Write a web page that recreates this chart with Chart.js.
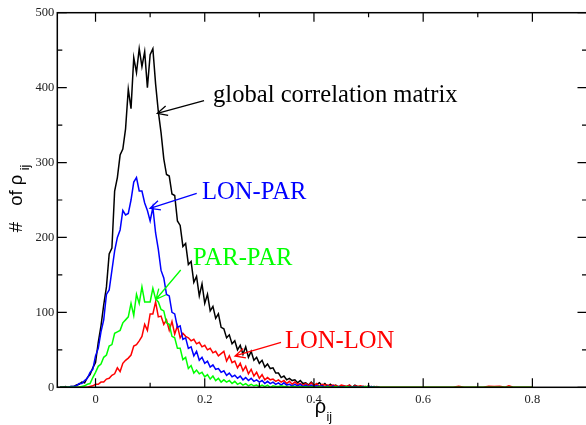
<!DOCTYPE html>
<html><head><meta charset="utf-8">
<script src="https://cdn.jsdelivr.net/npm/chart.js@4/dist/chart.umd.min.js"></script>
<style>html,body{margin:0;padding:0;overflow:hidden;background:#fff;width:586px;height:425px}canvas{display:block}</style>
</head><body><canvas id="c" width="590" height="425" style="width:590px;height:425px"></canvas>
<script>
// bin centres (rho_ij)
const rho = [
-0.065,-0.06,-0.055,-0.05,-0.045,-0.04,-0.035,-0.03,-0.025,-0.02,
-0.015,-0.01,-0.005,0,0.005,0.01,0.015,0.02,0.025,0.03,
0.035,0.04,0.045,0.05,0.055,0.06,0.065,0.07,0.075,0.08,
0.085,0.09,0.095,0.1,0.105,0.11,0.115,0.12,0.125,0.13,
0.135,0.14,0.145,0.15,0.155,0.16,0.165,0.17,0.175,0.18,
0.185,0.19,0.195,0.2,0.205,0.21,0.215,0.22,0.225,0.23,
0.235,0.24,0.245,0.25,0.255,0.26,0.265,0.27,0.275,0.28,
0.285,0.29,0.295,0.3,0.305,0.31,0.315,0.32,0.325,0.33,
0.335,0.34,0.345,0.35,0.355,0.36,0.365,0.37,0.375,0.38,
0.385,0.39,0.395,0.4,0.405,0.41,0.415,0.42,0.425,0.43,
0.435,0.44,0.445,0.45,0.455,0.46,0.465,0.47,0.475,0.48,
0.485,0.49,0.495,0.5,0.505,0.51,0.515,0.52,0.525,0.53,
0.535,0.54,0.545,0.55];

const globalCounts = [
0,0,1,0,1,1,3,4,7,6,
13,17,26,33,60,82,110,134,178,186,
262,280,310,318,345,398,372,440,420,452,
428,448,400,444,452,405,368,340,305,284,
282,258,256,222,216,188,192,164,168,140,
148,122,138,112,124,102,108,92,98,80,
78,66,70,58,62,50,56,44,54,40,
48,36,40,32,36,27,31,25,26,19,
19,13,15,10,12,9,10,6,9,5,
6,3,7,3,4,6,2,5,1,4,
1,3,0,2,1,1,3,0,3,1,
0,1,0,2,0,1,0,0,null,null,
null,null,null,null];

const lonParCounts = [
0,0,0,0,1,1,2,5,5,9,
12,20,24,42,52,74,90,124,130,156,
182,200,210,236,230,232,250,274,280,262,
262,246,236,222,240,206,184,156,146,124,
122,100,98,80,82,64,66,52,54,42,
48,36,40,32,35,27,30,24,25,20,
22,16,19,14,16,12,15,10,13,9,
12,8,10,7,9,5,8,5,7,4,
6,3,6,3,4,2,4,2,4,1,
3,1,3,1,2,1,2,0,2,0,
2,0,1,0,1,0,1,0,1,0,
0,1,0,0,1,0,0,0,null,null,
null,null,null,null];

const parParCounts = [
0,0,0,0,0,0,0,0,1,2,
4,5,13,20,28,31,40,43,55,57,
72,74,76,86,90,94,112,96,124,112,
134,114,114,114,132,118,114,104,102,86,
84,68,66,52,52,37,40,25,29,19,
23,18,20,14,17,11,15,9,12,7,
10,7,9,5,8,4,6,3,5,2,
4,2,3,1,3,1,3,0,2,1,
1,2,1,1,0,1,1,0,1,0,
1,0,1,0,0,1,0,0,1,0,
0,1,0,0,0,1,0,0,0,0,
0,0,1,0,0,0,0,0,0,0,
0,0,0,0];

const lonLonCounts = [
0,0,0,0,0,0,0,0,0,0,
0,1,2,4,4,7,7,11,12,16,
18,26,21,32,36,39,43,55,57,62,
68,84,76,98,98,114,94,95,84,90,
76,88,71,82,66,72,68,66,62,64,
58,60,54,56,50,52,46,48,42,45,
48,35,42,33,35,26,32,22,28,18,
24,15,20,12,17,10,13,10,11,8,
10,7,9,5,8,4,7,4,5,3,
5,2,6,2,5,1,4,3,3,2,
3,2,1,3,2,1,3,0,2,1,
2,1,1,0,1,0,1,0,0,0,
0,0,0,0];

const parParTailRho = [0.6,0.7,0.8];
const parParTail    = [0,0,0];
const lonLonTailRho = [0.6,0.655,0.665,0.675,0.71,0.72,0.73,0.74,0.75,0.757,0.765,0.8];
const lonLonTail    = [0,0,1.5,0,0,1.5,1,1.5,0,2,0,0];

const xMajorTicks = [0,0.2,0.4,0.6,0.8];
const xMinorTicks = [0.1,0.3,0.5,0.7];
const xTickLabels = ['0','0.2','0.4','0.6','0.8'];
const yMajorTicks = [0,100,200,300,400,500];
const yMinorTicks = [50,150,250,350,450];
const yTickLabels = ['0','100','200','300','400','500'];

const annotations = [
  {text:'global correlation matrix', color:'#000000', at:[0.2152,380.8], from:[0.1987,382.8], to:[0.1132,365.7]},
  {text:'LON-PAR', color:'#0000ff', at:[0.1951,251.3], from:[0.1853,258.9], to:[0.0998,238.9]},
  {text:'PAR-PAR', color:'#00ff00', at:[0.1786,163.2], from:[0.1560,156.6], to:[0.1108,117.5]},
  {text:'LON-LON', color:'#ff0000', at:[0.3471,52.5], from:[0.3397,59.8], to:[0.2555,41.8]}
];

function pts(xs, ys, tx, ty){
  const out=[];
  for(let i=0;i<xs.length;i++){ if(ys[i]!==null) out.push({x:xs[i],y:ys[i]}); }
  if(tx){ for(let i=0;i<tx.length;i++) out.push({x:tx[i],y:ty[i]}); }
  return out;
}

const framePlugin = {
  id:'frame',
  afterDatasetsDraw(chart){
    const {ctx, chartArea:a, scales:{x,y}} = chart;
    ctx.save();
    ctx.strokeStyle='#000'; ctx.lineWidth=1.5;
    ctx.strokeRect(a.left,a.top,a.right-a.left,a.bottom-a.top);
    ctx.lineWidth=1.2;
    ctx.beginPath();
    const xt=(v,L)=>{const p=x.getPixelForValue(v); ctx.moveTo(p,a.bottom); ctx.lineTo(p,a.bottom-L); ctx.moveTo(p,a.top); ctx.lineTo(p,a.top+L);};
    const yt=(v,L)=>{const p=y.getPixelForValue(v); ctx.moveTo(a.left,p); ctx.lineTo(a.left+L,p); ctx.moveTo(a.right,p); ctx.lineTo(a.right-L,p);};
    xMajorTicks.forEach(v=>xt(v,9)); xMinorTicks.forEach(v=>xt(v,4.5));
    yMajorTicks.forEach(v=>yt(v,9.5)); yMinorTicks.forEach(v=>yt(v,5));
    ctx.stroke();
    // annotations
    annotations.forEach(an=>{
      const x0=x.getPixelForValue(an.from[0]), y0=y.getPixelForValue(an.from[1]);
      const x1=x.getPixelForValue(an.to[0]), y1=y.getPixelForValue(an.to[1]);
      ctx.strokeStyle=an.color; ctx.lineWidth=1.3;
      ctx.beginPath(); ctx.moveTo(x0,y0); ctx.lineTo(x1,y1);
      const ang=Math.atan2(y1-y0,x1-x0), hl=11, hw=0.45;
      ctx.moveTo(x1-hl*Math.cos(ang-hw), y1-hl*Math.sin(ang-hw)); ctx.lineTo(x1,y1);
      ctx.lineTo(x1-hl*Math.cos(ang+hw), y1-hl*Math.sin(ang+hw));
      ctx.stroke();
      ctx.fillStyle=an.color; ctx.font='24.6px "Liberation Serif"'; ctx.textBaseline='alphabetic'; ctx.textAlign='left';
      ctx.fillText(an.text, x.getPixelForValue(an.at[0]), y.getPixelForValue(an.at[1]));
    });
    // axis titles
    ctx.fillStyle='#000'; ctx.textAlign='left'; ctx.textBaseline='alphabetic';
    const cx=(a.left+a.right)/2+1;
    ctx.font='20px "Liberation Sans"';
    const w1=ctx.measureText('\u03c1').width;
    ctx.font='12.5px "Liberation Sans"';
    const w2=ctx.measureText('ij').width;
    const sx=cx-(w1+w2)/2;
    ctx.font='20px "Liberation Sans"'; ctx.fillText('\u03c1',sx,413);
    ctx.font='12.5px "Liberation Sans"'; ctx.fillText('ij',sx+w1+0.5,421);
    ctx.save();
    ctx.translate(21.5,0); ctx.rotate(-Math.PI/2);
    ctx.textAlign='center';
    ctx.font='18.5px "Liberation Sans"';
    ctx.fillText('#',-227,0);
    ctx.fillText('of',-198,0);
    ctx.fillText('\u03c1',-180,0);
    ctx.font='12.5px "Liberation Sans"';
    ctx.fillText('ij',-167.5,7);
    ctx.restore();
    ctx.restore();
  }
};

const tickFont={family:'"Liberation Serif"', size:12.5};
new Chart(document.getElementById('c'), {
  type:'line',
  data:{datasets:[
    {label:'PAR-PAR', data:pts(rho,parParCounts,parParTailRho,parParTail), borderColor:'#00ff00'},
    {label:'LON-PAR', data:pts(rho,lonParCounts), borderColor:'#0000ff'},
    {label:'LON-LON', data:pts(rho,lonLonCounts,lonLonTailRho,lonLonTail), borderColor:'#ff0000'},
    {label:'global correlation matrix', data:pts(rho,globalCounts), borderColor:'#000000'}
  ]},
  options:{
    responsive:false, animation:false, devicePixelRatio:1,
    layout:{padding:{left:0,right:3,top:12.7,bottom:0}},
    plugins:{legend:{display:false}, tooltip:{enabled:false}},
    elements:{point:{radius:0}, line:{borderWidth:1.5, tension:0}},
    scales:{
      x:{type:'linear', min:-0.07, max:0.9,
         afterFit(s){s.height=425-387.3;},
         afterBuildTicks(s){s.ticks=xMajorTicks.map(v=>({value:v}));},
         ticks:{font:tickFont, color:'#222', padding:5, maxRotation:0, autoSkip:false,
                callback:(v,i)=>xTickLabels[i]},
         grid:{display:false, drawTicks:false}, border:{display:false}},
      y:{type:'linear', min:0, max:500,
         afterFit(s){s.width=57.3;},
         afterBuildTicks(s){s.ticks=yMajorTicks.map(v=>({value:v}));},
         ticks:{font:tickFont, color:'#222', padding:3, autoSkip:false,
                callback:(v,i)=>yTickLabels[i]},
         grid:{display:false, drawTicks:false}, border:{display:false}}
    }
  },
  plugins:[framePlugin]
});
</script></body></html>
